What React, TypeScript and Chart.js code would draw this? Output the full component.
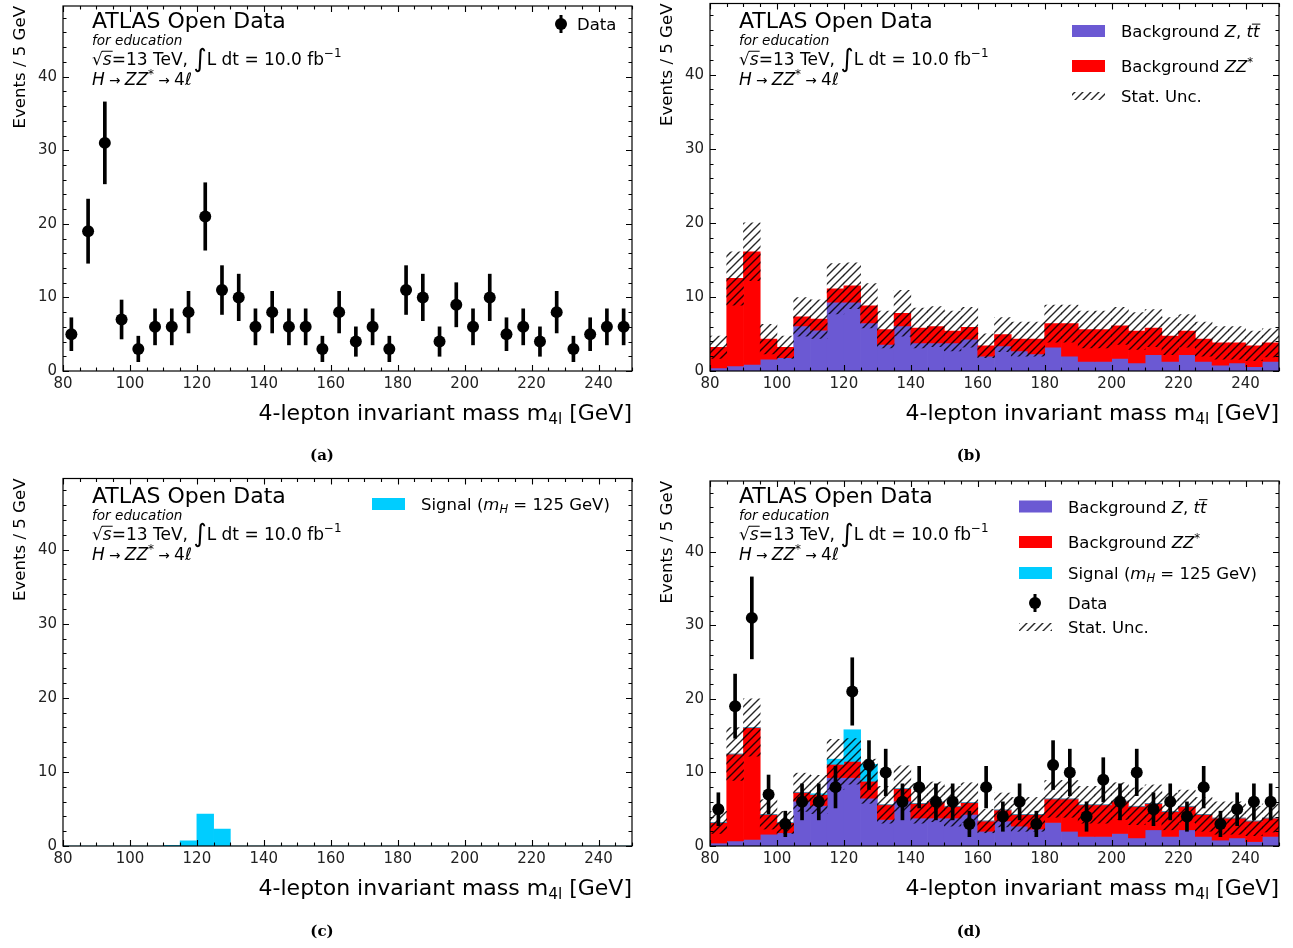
import React, { useEffect, useRef } from "react";
import { Chart, registerables } from "chart.js";

Chart.register(...registerables);

// ---------------- data ----------------
const binCenters = [
  82.5, 87.5, 92.5, 97.5, 102.5, 107.5, 112.5, 117.5, 122.5, 127.5, 132.5, 137.5,
  142.5, 147.5, 152.5, 157.5, 162.5, 167.5, 172.5, 177.5, 182.5, 187.5, 192.5,
  197.5, 202.5, 207.5, 212.5, 217.5, 222.5, 227.5, 232.5, 237.5, 242.5, 247.5,
];
const dataCounts = [
  5, 19, 31, 7, 3, 6, 6, 8, 21, 11, 10, 6, 8, 6, 6, 3, 8, 4, 6, 3, 11, 10, 4, 9, 6,
  10, 5, 6, 4, 8, 3, 5, 6, 6,
];
const bkgZtt = [
  0.4, 0.7, 0.9, 1.6, 1.8, 6.1, 5.5, 9.3, 9.3, 6.5, 3.6, 6.1, 3.8, 3.8, 3.8, 4.3,
  2.0, 3.4, 2.7, 2.3, 3.2, 2.0, 1.3, 1.3, 1.7, 1.1, 2.2, 1.3, 2.2, 1.3, 0.8, 1.1,
  0.6, 1.3,
];
const bkgZZ = [
  2.8, 11.8, 15.2, 2.7, 1.4, 1.2, 1.5, 1.8, 2.2, 2.3, 2.0, 1.7, 2.0, 2.2, 1.6, 1.6,
  1.4, 1.5, 1.6, 2.0, 3.2, 4.4, 4.3, 4.3, 4.4, 4.3, 3.6, 3.4, 3.2, 3.0, 3.0, 2.7,
  2.8, 2.5,
];
const signalMH125 = [
  0, 0, 0, 0, 0, 0, 0.1, 0.7, 4.3, 2.3, 0, 0, 0, 0, 0, 0, 0, 0, 0, 0, 0, 0, 0, 0, 0,
  0, 0, 0, 0, 0, 0, 0, 0, 0,
];
const statUnc = [
  1.5, 3.6, 3.9, 2.0, 1.5, 2.6, 2.6, 3.4, 3.1, 3.0, 2.5, 3.1, 2.7, 2.7, 2.7, 2.7,
  1.6, 2.3, 2.3, 2.3, 2.5, 2.5, 2.5, 2.5, 2.5, 2.5, 2.5, 2.5, 2.2, 2.3, 2.2, 2.2,
  2.0, 1.9,
];
const xTickValues = [80, 100, 120, 140, 160, 180, 200, 220, 240];
const yTickValues = [0, 10, 20, 30, 40];
const xRange = [80, 250];
const yRange = [0, 49.6];

// ---------------- style ----------------
const FONT = '"DejaVu Sans", sans-serif';
const C_ZTT = "#6b59d3";
const C_ZZ = "#ff0000";
const C_SIG = "#00cdff";
const W = 646;
const H = 470;
const PLOT = { left: 63, right: 632, top: 3.5, bottom: 371 };

type Seg = { t: string; it?: boolean; sc?: number; dy?: number; over?: boolean };

function segFont(size: number, s: Seg) {
  return `${s.it ? "italic " : ""}${size * (s.sc ?? 1)}px ${FONT}`;
}
function richWidth(ctx: CanvasRenderingContext2D, segs: Seg[], size: number) {
  let w = 0;
  for (const s of segs) {
    ctx.font = segFont(size, s);
    w += ctx.measureText(s.t).width;
  }
  return w;
}
function drawRich(
  ctx: CanvasRenderingContext2D,
  segs: Seg[],
  x: number,
  y: number,
  size: number,
  align: "left" | "right" = "left"
) {
  let cx = align === "right" ? x - richWidth(ctx, segs, size) : x;
  ctx.textAlign = "left";
  ctx.textBaseline = "alphabetic";
  for (const s of segs) {
    ctx.font = segFont(size, s);
    const yy = y + (s.dy ?? 0) * size;
    ctx.fillText(s.t, cx, yy);
    const w = ctx.measureText(s.t).width;
    if (s.over) {
      ctx.save();
      ctx.lineWidth = 1;
      ctx.strokeStyle = "#000";
      ctx.beginPath();
      ctx.moveTo(cx - 1, yy - size * 0.78);
      ctx.lineTo(cx + w + 1, yy - size * 0.78);
      ctx.stroke();
      ctx.restore();
    }
    cx += w;
  }
}

function makeHatch(): CanvasPattern {
  const c = document.createElement("canvas");
  c.width = 8;
  c.height = 8;
  const g = c.getContext("2d")!;
  g.strokeStyle = "rgba(0,0,0,0.85)";
  g.lineWidth = 1.4;
  g.beginPath();
  g.moveTo(0, 8);
  g.lineTo(8, 0);
  g.moveTo(-2, 2);
  g.lineTo(2, -2);
  g.moveTo(6, 10);
  g.lineTo(10, 6);
  g.stroke();
  return g.createPattern(c, "repeat")!;
}

type LegendItem = { kind: "ztt" | "zz" | "sig" | "data" | "unc"; y: number; label: Seg[] };
type PanelCfg = {
  data: boolean;
  bkg: boolean;
  sig: boolean;
  legend: LegendItem[];
  patchX: number;
  textX: number;
};

const LBL_ZTT: Seg[] = [{ t: "Background " }, { t: "Z", it: true }, { t: ", " }, { t: "t", it: true }, { t: "t", it: true, over: true }];
const LBL_ZZ: Seg[] = [{ t: "Background " }, { t: "ZZ", it: true }, { t: "*", sc: 0.7, dy: -0.38 }];
const LBL_SIG: Seg[] = [{ t: "Signal (" }, { t: "m", it: true }, { t: "H", it: true, sc: 0.7, dy: 0.18 }, { t: " = 125 GeV)" }];
const LBL_DATA: Seg[] = [{ t: "Data" }];
const LBL_UNC: Seg[] = [{ t: "Stat. Unc." }];

const panels: PanelCfg[] = [
  { data: true, bkg: false, sig: false, patchX: 545, textX: 577, legend: [{ kind: "data", y: 24, label: LBL_DATA }] },
  {
    data: false, bkg: true, sig: false, patchX: 425, textX: 474,
    legend: [
      { kind: "ztt", y: 31, label: LBL_ZTT },
      { kind: "zz", y: 66, label: LBL_ZZ },
      { kind: "unc", y: 96, label: LBL_UNC },
    ],
  },
  { data: false, bkg: false, sig: true, patchX: 372, textX: 421, legend: [{ kind: "sig", y: 29, label: LBL_SIG }] },
  {
    data: true, bkg: true, sig: true, patchX: 372, textX: 421,
    legend: [
      { kind: "ztt", y: 31.5, label: LBL_ZTT },
      { kind: "zz", y: 67, label: LBL_ZZ },
      { kind: "sig", y: 98, label: LBL_SIG },
      { kind: "data", y: 128, label: LBL_DATA },
      { kind: "unc", y: 152, label: LBL_UNC },
    ],
  },
];

function buildChart(canvas: HTMLCanvasElement, cfg: PanelCfg) {
  const hatch = makeHatch();
  const datasets: any[] = [];
  if (cfg.data) {
    datasets.push({
      type: "line",
      order: 0,
      showLine: false,
      data: binCenters.map((x, i) => ({ x, y: dataCounts[i] })),
      pointRadius: 6,
      pointBackgroundColor: "#000",
      pointBorderWidth: 0,
    });
    datasets.push({
      type: "bar",
      order: 1,
      grouped: false,
      barThickness: 3,
      backgroundColor: "#000",
      borderWidth: 0,
      data: binCenters.map((x, i) => ({
        x,
        y: [dataCounts[i] - Math.sqrt(dataCounts[i]), dataCounts[i] + Math.sqrt(dataCounts[i])],
      })),
    });
  }
  const tot = binCenters.map((_, i) => bkgZtt[i] + bkgZZ[i]);
  if (cfg.bkg) {
    datasets.push({
      type: "bar",
      order: 2,
      grouped: false,
      barPercentage: 1,
      categoryPercentage: 1,
      backgroundColor: hatch,
      borderWidth: 0,
      data: binCenters.map((x, i) => ({ x, y: [tot[i] - statUnc[i], tot[i] + statUnc[i]] })),
    });
  }
  if (cfg.sig) {
    const base = cfg.bkg ? tot : binCenters.map(() => 0);
    datasets.push({
      type: "bar",
      order: 3,
      grouped: false,
      barPercentage: 1,
      categoryPercentage: 1,
      backgroundColor: C_SIG,
      borderWidth: 0,
      data: binCenters.map((x, i) => ({ x, y: [base[i], base[i] + signalMH125[i]] })),
    });
  }
  if (cfg.bkg) {
    datasets.push({
      type: "bar",
      order: 4,
      grouped: false,
      barPercentage: 1,
      categoryPercentage: 1,
      backgroundColor: C_ZZ,
      borderWidth: 0,
      data: binCenters.map((x, i) => ({ x, y: [bkgZtt[i], tot[i]] })),
    });
    datasets.push({
      type: "bar",
      order: 5,
      grouped: false,
      barPercentage: 1,
      categoryPercentage: 1,
      backgroundColor: C_ZTT,
      borderWidth: 0,
      data: binCenters.map((x, i) => ({ x, y: [0, bkgZtt[i]] })),
    });
  }

  const overlay = {
    id: "overlay",
    afterDraw(chart: any) {
      const ctx: CanvasRenderingContext2D = chart.ctx;
      const a = chart.chartArea;
      const xs = chart.scales.x;
      const ys = chart.scales.y;
      ctx.save();
      ctx.fillStyle = "#000";
      ctx.strokeStyle = "#000";
      // frame
      ctx.lineWidth = 1.2;
      ctx.strokeRect(a.left, a.top, a.right - a.left, a.bottom - a.top);
      // ticks
      ctx.lineWidth = 1.1;
      ctx.beginPath();
      for (let v = xRange[0]; v <= xRange[1]; v += 5) {
        const px = Math.round(xs.getPixelForValue(v)) + 0.5;
        const L = xTickValues.includes(v) ? 6 : 3.5;
        ctx.moveTo(px, a.bottom);
        ctx.lineTo(px, a.bottom - L);
        ctx.moveTo(px, a.top);
        ctx.lineTo(px, a.top + L);
      }
      for (let v = yRange[0]; v <= yRange[1]; v += 2) {
        const py = Math.round(ys.getPixelForValue(v)) + 0.5;
        const L = yTickValues.includes(v) ? 6 : 3.5;
        ctx.moveTo(a.left, py);
        ctx.lineTo(a.left + L, py);
        ctx.moveTo(a.right, py);
        ctx.lineTo(a.right - L, py);
      }
      ctx.stroke();

      // annotations
      ctx.textAlign = "left";
      ctx.textBaseline = "alphabetic";
      ctx.font = `22px ${FONT}`;
      ctx.fillText("ATLAS Open Data", 92, 28);
      ctx.font = `italic 13.6px ${FONT}`;
      ctx.fillText("for education", 92, 45);
      drawRich(
        ctx,
        [
          { t: "\u221A" },
          { t: "s", it: true, over: true },
          { t: "=13 TeV, " },
          { t: "\u222B", sc: 1.5, dy: 0.12 },
          { t: "L dt = 10.0 fb" },
          { t: "\u22121", sc: 0.7, dy: -0.42 },
        ],
        92,
        64.5,
        17
      );
      drawRich(
        ctx,
        [
          { t: "H", it: true },
          { t: " \u2192 ", sc: 0.8 },
          { t: "ZZ", it: true },
          { t: "*", sc: 0.7, dy: -0.38 },
          { t: " \u2192 ", sc: 0.8 },
          { t: "4" },
          { t: "\u2113", it: true },
        ],
        92,
        84.5,
        17
      );

      // axis titles
      drawRich(
        ctx,
        [
          { t: "4-lepton invariant mass m" },
          { t: "4l", sc: 0.7, dy: 0.2 },
          { t: " [GeV]" },
        ],
        a.right,
        420,
        22,
        "right"
      );
      ctx.save();
      ctx.translate(24.5, a.top);
      ctx.rotate(-Math.PI / 2);
      ctx.font = `16.6px ${FONT}`;
      ctx.textAlign = "right";
      ctx.textBaseline = "alphabetic";
      ctx.fillText("Events / 5 GeV", 0, 0);
      ctx.restore();

      // legend
      for (const it of cfg.legend) {
        const px = cfg.patchX;
        if (it.kind === "data") {
          const cx = px + 16;
          ctx.fillRect(cx - 1.5, it.y - 9, 3, 18);
          ctx.beginPath();
          ctx.arc(cx, it.y, 6, 0, Math.PI * 2);
          ctx.fill();
        } else if (it.kind === "unc") {
          ctx.save();
          ctx.fillStyle = hatch;
          ctx.fillRect(px, it.y - 4, 33, 8);
          ctx.restore();
        } else {
          ctx.save();
          ctx.fillStyle = it.kind === "ztt" ? C_ZTT : it.kind === "zz" ? C_ZZ : C_SIG;
          ctx.fillRect(px, it.y - 6, 33, 12);
          ctx.restore();
        }
        drawRich(ctx, it.label, cfg.textX, it.y + 6, 16.5);
      }
      ctx.restore();
    },
  };

  return new Chart(canvas, {
    type: "bar",
    data: { datasets },
    options: {
      responsive: false,
      devicePixelRatio: 1,
      animation: false,
      events: [],
      layout: { padding: { left: 0, top: PLOT.top, right: W - PLOT.right, bottom: 0 } },
      plugins: { legend: { display: false }, tooltip: { enabled: false } },
      scales: {
        x: {
          type: "linear",
          offset: false,
          min: xRange[0],
          max: xRange[1],
          grid: { display: false, drawTicks: false, offset: false },
          border: { display: false },
          ticks: {
            font: { family: "DejaVu Sans", size: 15 },
            color: "#222",
            padding: 4,
            maxRotation: 0,
            autoSkip: false,
          },
          afterBuildTicks: (s: any) => {
            s.ticks = xTickValues.map((v) => ({ value: v }));
          },
          afterFit: (s: any) => {
            s.height = H - PLOT.bottom;
            s.paddingLeft = 0;
            s.paddingRight = 0;
          },
        },
        y: {
          type: "linear",
          min: yRange[0],
          max: yRange[1],
          grid: { display: false, drawTicks: false },
          border: { display: false },
          ticks: {
            font: { family: "DejaVu Sans", size: 15 },
            color: "#222",
            padding: 6,
            autoSkip: false,
          },
          afterBuildTicks: (s: any) => {
            s.ticks = yTickValues.map((v) => ({ value: v }));
          },
          afterFit: (s: any) => {
            s.width = PLOT.left;
            s.paddingTop = 0;
            s.paddingBottom = 0;
          },
        },
      },
    } as any,
    plugins: [overlay],
  });
}

function Panel({ cfg, left, top }: { cfg: PanelCfg; left: number; top: number }) {
  const ref = useRef<HTMLCanvasElement>(null);
  useEffect(() => {
    const chart = buildChart(ref.current!, cfg);
    return () => chart.destroy();
  }, [cfg]);
  return (
    <canvas
      ref={ref}
      width={W}
      height={H}
      style={{ position: "absolute", left, top, width: W, height: H }}
    />
  );
}

const captionStyle: React.CSSProperties = {
  position: "absolute",
  transform: "translate(-50%, -50%)",
  font: 'bold 15px "DejaVu Serif", serif',
  color: "#000",
  whiteSpace: "nowrap",
};

export default function App() {
  return (
    <div style={{ position: "absolute", left: 0, top: 0, width: 1293, height: 948, background: "#fff" }}>
      <Panel cfg={panels[0]} left={0} top={0} />
      <Panel cfg={panels[1]} left={647} top={0} />
      <Panel cfg={panels[2]} left={0} top={475} />
      <Panel cfg={panels[3]} left={647} top={475} />
      <div style={{ ...captionStyle, left: 322, top: 455 }}>(a)</div>
      <div style={{ ...captionStyle, left: 969, top: 455 }}>(b)</div>
      <div style={{ ...captionStyle, left: 322, top: 931 }}>(c)</div>
      <div style={{ ...captionStyle, left: 969, top: 931 }}>(d)</div>
    </div>
  );
}
